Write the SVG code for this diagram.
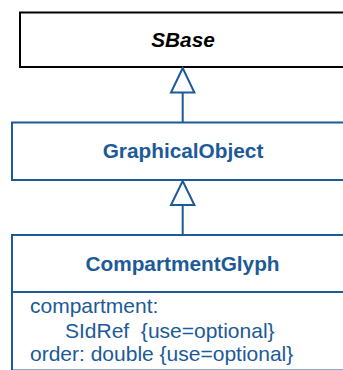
<svg xmlns="http://www.w3.org/2000/svg" width="343" height="370" viewBox="0 0 343 370">
<style>
.box{fill:#fff;stroke:#1c5a98;stroke-width:2}
.sbase{fill:#fff;stroke:#000;stroke-width:2}
.conn{fill:none;stroke:#1c5a98;stroke-width:2}
.head{fill:#fff;stroke:#1c5a98;stroke-width:2;stroke-linejoin:miter}
.t{font-family:"Liberation Sans",Arial,sans-serif;font-size:20.8px;text-anchor:middle;font-weight:bold;fill:#1c5a98}
.a{font-family:"Liberation Sans",Arial,sans-serif;font-size:21px;fill:#1c5a98}
</style>
<rect width="343" height="370" fill="#fff"/>
<g id="SBase">
<rect class="sbase" x="20" y="12.5" width="340" height="54.5"/>
<text class="t" x="183" y="47" style="fill:#000;font-style:italic">SBase</text>
</g>
<g id="GraphicalObject">
<rect class="box" x="12" y="122.5" width="350" height="57.5"/>
<text class="t" x="183" y="157.5">GraphicalObject</text>
</g>
<g id="CompartmentGlyph">
<rect class="box" x="12" y="235" width="350" height="135.5"/>
<line class="box" x1="12" y1="292" x2="362" y2="292"/>
<text class="t" x="182.5" y="271">CompartmentGlyph</text>
<text class="a" x="30" y="313">compartment:</text>
<text class="a" x="65" y="338" xml:space="preserve">SIdRef  {use=optional}</text>
<text class="a" x="30" y="361">order: double {use=optional}</text>
</g>
<g id="connectors">
<line class="conn" x1="182.7" y1="92.5" x2="182.7" y2="122.5"/>
<polygon class="head" points="182.7,68 171,92.5 194.4,92.5"/>
<line class="conn" x1="182.7" y1="205" x2="182.7" y2="235"/>
<polygon class="head" points="182.7,181 171,205 194.4,205"/>
</g>
</svg>
